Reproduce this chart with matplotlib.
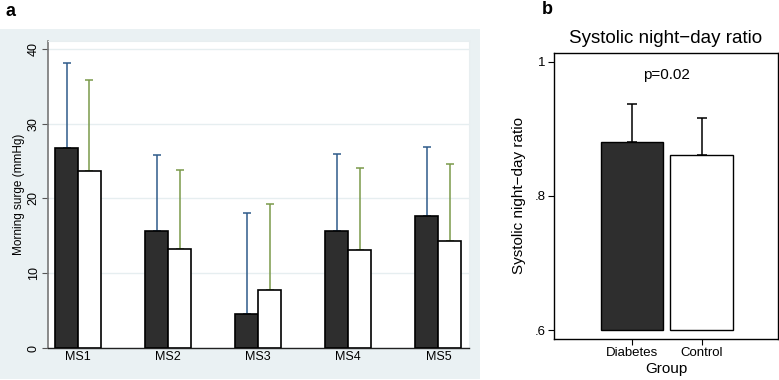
import numpy as np
import matplotlib
matplotlib.use('Agg')
import matplotlib.pyplot as plt

plt.rcParams['font.family'] = ['Liberation Sans', 'DejaVu Sans']

# panel a data
ms_labels = ['MS1', 'MS2', 'MS3', 'MS4', 'MS5']
diab_mean = [26.7, 15.7, 4.6, 15.7, 17.6]
diab_upper = [38.1, 25.8, 18.0, 26.0, 26.9]
ctrl_mean = [23.7, 13.3, 7.7, 13.1, 14.3]
ctrl_upper = [35.8, 23.8, 19.3, 24.1, 24.6]

# panel b data
groups = ['Diabetes', 'Control']
ratio_mean = [0.881, 0.861]
ratio_upper = [0.938, 0.916]

W, H = 779, 380
fig = plt.figure(figsize=(W / 100, H / 100), dpi=100)

def fx(px):
    return px / W

def fy(py):
    return 1 - py / H

# stata-like background for panel a (own axes, drawn first)
bg = fig.add_axes([fx(0), fy(379), fx(480), (379 - 29) / H], zorder=0)
bg.set_facecolor('#eaf1f3')
bg.set_xticks([])
bg.set_yticks([])
for s in bg.spines.values():
    s.set_visible(False)

# ---- panel a ----
ax = fig.add_axes([fx(48), fy(348), fx(469 - 48), (348 - 41) / H], zorder=1)
x = np.arange(1, 6)
bw = 0.255
d_err = np.array(diab_upper) - np.array(diab_mean)
c_err = np.array(ctrl_upper) - np.array(ctrl_mean)
ax.bar(x - bw / 2, diab_mean, bw, color='#2e2e2e', edgecolor='black', linewidth=1.2, zorder=3)
ax.bar(x + bw / 2, ctrl_mean, bw, color='white', edgecolor='black', linewidth=1.2, zorder=3)
ax.errorbar(x - bw / 2, diab_mean, yerr=[np.zeros(5), d_err], fmt='none',
            ecolor='#2f5b8a', elinewidth=1.1, capsize=3, capthick=1.1, zorder=2)
ax.errorbar(x + bw / 2, ctrl_mean, yerr=[np.zeros(5), c_err], fmt='none',
            ecolor='#7a9a4a', elinewidth=1.1, capsize=3, capthick=1.1, zorder=2)
ax.set_xlim(0.667, 5.34)
ax.set_ylim(0, 41.07)
ax.set_xticks(x)
ax.set_xticklabels(ms_labels, fontsize=9)
ax.tick_params(axis='x', length=0, pad=2)
ax.set_yticks([0, 10, 20, 30, 40])
ax.set_yticklabels(['0', '10', '20', '30', '40'], rotation=90, va='center', fontsize=9)
ax.tick_params(axis='y', length=4, width=0.8, color='#555555', pad=2)
ax.yaxis.grid(True, color='#e6eef0', linewidth=1.0, zorder=0)
ax.set_axisbelow(True)
for s in ['top', 'right']:
    ax.spines[s].set_color('#e8eef0')
ax.spines['left'].set_color('#777777')
ax.spines['left'].set_linewidth(1.2)
ax.spines['bottom'].set_color('#222222')
ax.spines['bottom'].set_linewidth(1.0)
ax.set_ylabel('Morning surge (mmHg)', fontsize=8.5, labelpad=2)

fig.text(fx(5), fy(11), 'a', fontsize=13, fontweight='bold', va='center', ha='left')

# ---- panel b ----
bx = fig.add_axes([fx(554), fy(339), fx(778 - 554), (339 - 53) / H])
xb = np.array([1, 2])
r_err = np.array(ratio_upper) - np.array(ratio_mean)
base = 0.6
bx.bar(xb, np.array(ratio_mean) - base, 0.9, bottom=base,
       color=['#2e2e2e', 'white'], edgecolor='black', linewidth=1.0, zorder=3)
bx.errorbar(xb, ratio_mean, yerr=[np.zeros(2), r_err], fmt='none', ecolor='black',
            elinewidth=1.1, capsize=3.5, capthick=1.1, zorder=2)
bx.set_xlim(-0.119, 3.095)
bx.set_ylim(0.5866, 1.0134)
bx.set_yticks([0.6, 0.8, 1.0])
bx.set_yticklabels(['.6', '.8', '1'], fontsize=9.5)
bx.set_xticks(xb)
bx.set_xticklabels(groups, fontsize=9.5)
bx.tick_params(length=4, width=0.8, pad=2)
for s in bx.spines.values():
    s.set_linewidth(1.0)
bx.set_xlabel('Group', fontsize=11, labelpad=2)
bx.set_ylabel('Systolic night\u2212day ratio', fontsize=11, labelpad=6)
bx.set_title('Systolic night\u2212day ratio', fontsize=13.5, pad=7)
bx.text(1.5, 0.98, 'p=0.02', ha='center', va='center', fontsize=11)

fig.text(fx(542), fy(9), 'b', fontsize=13, fontweight='bold', va='center', ha='left')

fig.savefig('out.png', dpi=100)
